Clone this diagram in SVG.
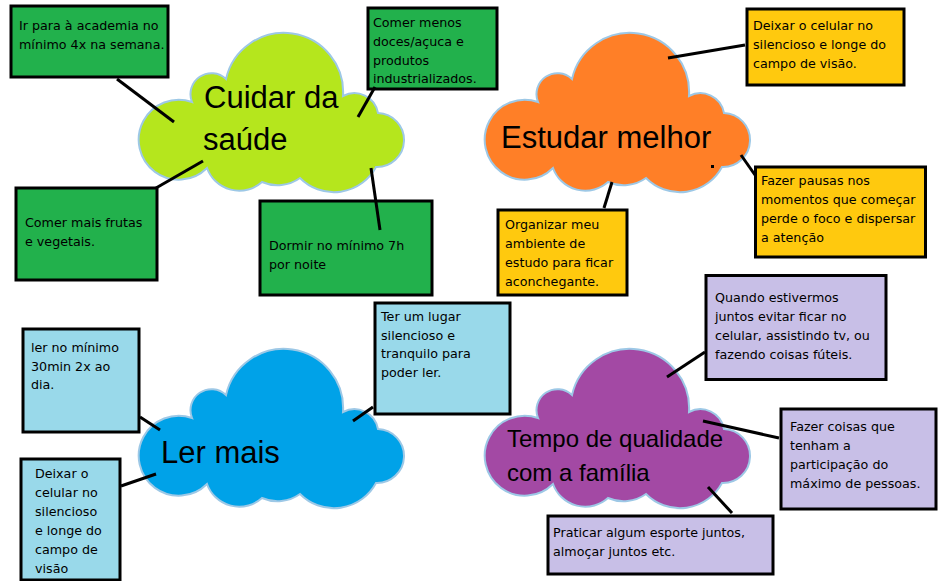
<svg xmlns="http://www.w3.org/2000/svg" xmlns:xlink="http://www.w3.org/1999/xlink" width="951" height="581" viewBox="0 0 951 581">
<style>
.cloud{stroke:#9dc8e6;stroke-width:2}
.box{stroke:#000;stroke-width:3}
.g{fill:#22b14c}.y{fill:#ffc90e}.lb{fill:#99d9ea}.lv{fill:#c8bfe7}
.t{font-family:"DejaVu Sans",sans-serif;font-size:12.7px;fill:#000}
.ct{font-family:"Liberation Sans",Arial,sans-serif;font-size:31px;fill:#000}
.ct2{font-family:"Liberation Sans",Arial,sans-serif;font-size:24px;fill:#000}
#connectors line{stroke:#000;stroke-width:3;stroke-linecap:butt}
</style>
<defs>
<path id="cloudShape" d="M192,102 A21,21 0 0 1 226,79 A59.3,59.3 0 0 1 343,96 A24,24 0 0 1 378,113 A27,27 0 0 1 376,167 A47.7,47.7 0 0 1 300,178 A38.6,38.6 0 0 1 262,182 A34.2,34.2 0 0 1 207,168 A40,40 0 1 1 192,102 Z"/>
</defs>
<rect width="951" height="581" fill="#fff"/>

<g id="cloud-saude">
<use xlink:href="#cloudShape" href="#cloudShape" class="cloud" fill="#b5e61d"/>
<text class="ct" x="204" y="108">Cuidar da</text>
<text class="ct" x="203" y="150">saúde</text>
</g>
<g id="cloud-estudar">
<use xlink:href="#cloudShape" href="#cloudShape" class="cloud" fill="#ff7f27" transform="translate(346,0)"/>
<text class="ct" x="501" y="148">Estudar melhor</text>
<rect x="711" y="165" width="3" height="3" fill="#000"/>
</g>
<g id="cloud-ler">
<use xlink:href="#cloudShape" href="#cloudShape" class="cloud" fill="#00a2e8" transform="translate(0,316)"/>
<text class="ct" x="161" y="463">Ler mais</text>
</g>
<g id="cloud-tempo">
<use xlink:href="#cloudShape" href="#cloudShape" class="cloud" fill="#a349a4" transform="translate(346,316)"/>
<text class="ct2" x="507" y="447">Tempo de qualidade</text>
<text class="ct2" x="507" y="481">com a família</text>
</g>

<g id="box-academia">
<rect class="box g" x="11" y="6" width="157" height="71"/>
<text class="t" x="19" y="30">Ir para à academia no</text>
<text class="t" x="19" y="49">mínimo 4x na semana.</text>
</g>
<g id="box-doces">
<rect class="box g" x="368" y="8" width="129" height="81"/>
<text class="t" x="373" y="27">Comer menos</text>
<text class="t" x="373" y="46">doces/açuca e</text>
<text class="t" x="373" y="65">produtos</text>
<text class="t" x="373" y="83">industrializados.</text>
</g>
<g id="box-frutas">
<rect class="box g" x="16" y="188" width="141" height="92"/>
<text class="t" x="25" y="227">Comer mais frutas</text>
<text class="t" x="25" y="246">e vegetais.</text>
</g>
<g id="box-dormir">
<rect class="box g" x="260" y="201" width="172" height="94"/>
<text class="t" x="269" y="250">Dormir no mínimo 7h</text>
<text class="t" x="269" y="269">por noite</text>
</g>

<g id="box-celular">
<rect class="box y" x="747" y="9" width="157" height="76"/>
<text class="t" x="753" y="30">Deixar o celular no</text>
<text class="t" x="753" y="49">silencioso e longe do</text>
<text class="t" x="753" y="68">campo de visão.</text>
</g>
<g id="box-pausas">
<rect class="box y" x="755.5" y="167" width="170" height="90"/>
<text class="t" x="761" y="185">Fazer pausas nos</text>
<text class="t" x="761" y="204">momentos que começar</text>
<text class="t" x="761" y="223">perde o foco e dispersar</text>
<text class="t" x="761" y="242">a atenção</text>
</g>
<g id="box-organizar">
<rect class="box y" x="498" y="210" width="129" height="85"/>
<text class="t" x="505" y="229">Organizar meu</text>
<text class="t" x="505" y="248">ambiente de</text>
<text class="t" x="505" y="267">estudo para ficar</text>
<text class="t" x="505" y="286">aconchegante.</text>
</g>

<g id="box-ler30">
<rect class="box lb" x="23" y="329" width="116" height="103"/>
<text class="t" x="31" y="352">ler no mínimo</text>
<text class="t" x="31" y="371">30min 2x ao</text>
<text class="t" x="31" y="389">dia.</text>
</g>
<g id="box-lugar">
<rect class="box lb" x="375" y="303" width="135" height="111"/>
<text class="t" x="381" y="321">Ter um lugar</text>
<text class="t" x="381" y="340">silencioso e</text>
<text class="t" x="381" y="358">tranquilo para</text>
<text class="t" x="381" y="377">poder ler.</text>
</g>
<g id="box-celular2">
<rect class="box lb" x="21" y="459" width="99" height="121"/>
<text class="t" x="35" y="478">Deixar o</text>
<text class="t" x="35" y="497">celular no</text>
<text class="t" x="35" y="516">silencioso</text>
<text class="t" x="35" y="535">e longe do</text>
<text class="t" x="35" y="554">campo de</text>
<text class="t" x="35" y="573">visão</text>
</g>

<g id="box-juntos">
<rect class="box lv" x="706" y="275.5" width="180" height="104"/>
<text class="t" x="715" y="302">Quando estivermos</text>
<text class="t" x="715" y="321">juntos evitar ficar no</text>
<text class="t" x="715" y="340">celular, assistindo tv, ou</text>
<text class="t" x="715" y="359">fazendo coisas fúteis.</text>
</g>
<g id="box-coisas">
<rect class="box lv" x="781" y="409" width="155" height="100"/>
<text class="t" x="790" y="431">Fazer coisas que</text>
<text class="t" x="790" y="450">tenham a</text>
<text class="t" x="790" y="469">participação do</text>
<text class="t" x="790" y="488">máximo de pessoas.</text>
</g>
<g id="box-esporte">
<rect class="box lv" x="548" y="516" width="225" height="58"/>
<text class="t" x="553" y="537">Praticar algum esporte juntos,</text>
<text class="t" x="553" y="556">almoçar juntos etc.</text>
</g>

<g id="connectors">
<line x1="117" y1="79" x2="174" y2="122"/>
<line x1="375" y1="87" x2="358" y2="117"/>
<line x1="156" y1="188" x2="203" y2="161"/>
<line x1="371" y1="168" x2="380" y2="230"/>
<line x1="668" y1="58" x2="745" y2="45"/>
<line x1="741" y1="155" x2="755" y2="175"/>
<line x1="612" y1="182" x2="604" y2="208"/>
<line x1="140" y1="417" x2="160" y2="430"/>
<line x1="373" y1="407" x2="353" y2="421"/>
<line x1="121" y1="486" x2="156" y2="474"/>
<line x1="667" y1="377" x2="705" y2="352"/>
<line x1="703" y1="421" x2="779" y2="438"/>
<line x1="708" y1="487" x2="732" y2="513"/>
</g>
</svg>
